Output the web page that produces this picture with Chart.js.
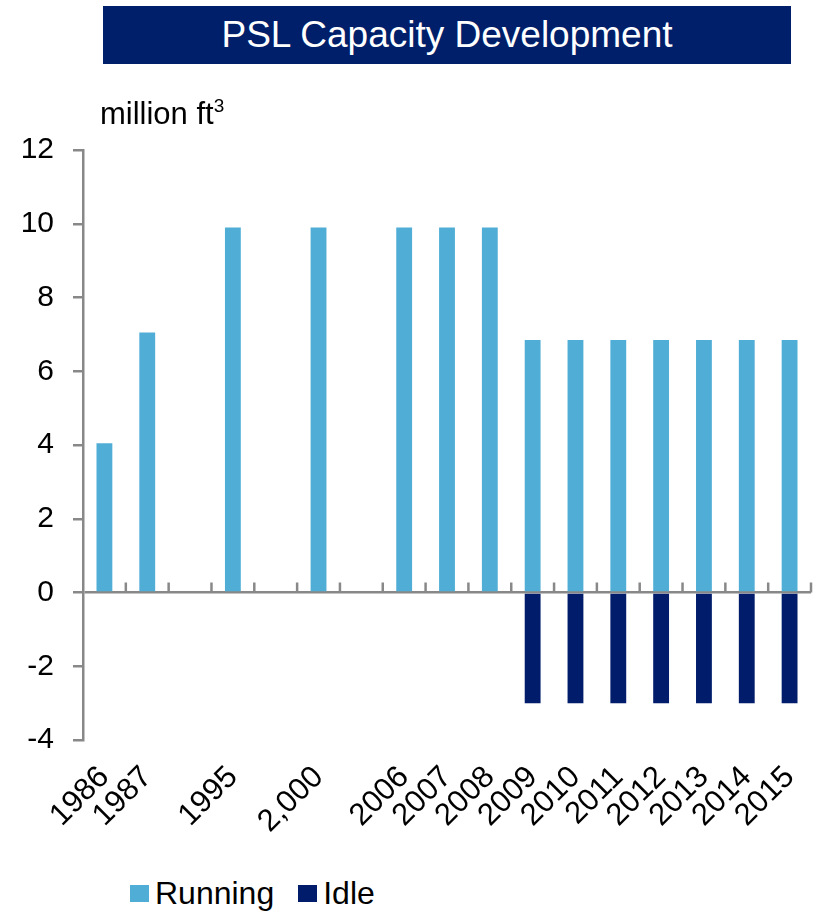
<!DOCTYPE html>
<html>
<head>
<meta charset="utf-8">
<script src="https://cdn.jsdelivr.net/npm/chart.js@4/dist/chart.umd.min.js"></script>
<style>
  body { margin: 0; background: #fff; font-family: "Liberation Sans", Arial, sans-serif; }
  #wrap { position: relative; width: 819px; height: 911px; }
  #title {
    position: absolute; left: 103px; top: 6px; width: 688px; height: 58px;
    background: #001f6b; color: #fff; font-size: 37px; line-height: 58px; text-align: center;
  }
  #unit { position: absolute; left: 100px; top: 96px; font-size: 31px; color: #000; }
  #unit sup { font-size: 19px; vertical-align: 12px; line-height: 0; }
  #chartbox { position: absolute; left: 0; top: 0; width: 819px; height: 840px; }
  #legend { position: absolute; left: 130px; top: 875px; font-size: 32px; color: #000; display: flex; }
  #legend span.item { display: flex; align-items: center; margin-right: 24px; }
  #legend span.sw { display: inline-block; width: 19px; height: 17px; margin-right: 6px; }
</style>
</head>
<body>
<div id="wrap">
  <div id="chartbox"><canvas id="myChart" width="819" height="840"></canvas></div>
  <div id="title">PSL Capacity Development</div>
  <div id="unit">million ft<sup>3</sup></div>
  <div id="legend"></div>
</div>
<script>
// categories, blank ones are the gaps between years
var years = ["1986", "1987", "", "1995", "", "2,000", "", "2006", "2007", "2008",
             "2009", "2010", "2011", "2012", "2013", "2014", "2015"];
var running = [4.05, 7.05, null, 9.9, null, 9.9, null, 9.9, 9.9, 9.9,
               6.85, 6.85, 6.85, 6.85, 6.85, 6.85, 6.85];
var idle = [null, null, null, null, null, null, null, null, null, null,
            -3, -3, -3, -3, -3, -3, -3];
var yTicks = [-4, -2, 0, 2, 4, 6, 8, 10, 12];

var lightBlue = "#50aed6";
var navy = "#001c6b";
var axisGray = "#888888";
var fontName = "'Liberation Sans', Arial, sans-serif";

// little upward ticks on the zero line between categories
const zeroTicks = {
    id: "zeroTicks",
    afterDatasetsDraw(chart) {
        const x = chart.scales.x, y = chart.scales.y;
        const ctx = chart.ctx;
        const y0 = y.getPixelForValue(0);
        ctx.save();
        ctx.strokeStyle = axisGray;
        ctx.lineWidth = 2.5;
        for (let i = 1; i <= years.length; i++) {
            let px;
            if (i < years.length) {
                px = (x.getPixelForValue(i - 1) + x.getPixelForValue(i)) / 2;
            } else {
                px = chart.chartArea.right;
            }
            ctx.beginPath();
            ctx.moveTo(px, y0);
            ctx.lineTo(px, y0 - 10);
            ctx.stroke();
        }
        ctx.restore();
    }
};

const chart = new Chart("myChart", {
    type: "bar",
    data: {
        labels: years,
        datasets: [
            { label: "Running", data: running, backgroundColor: lightBlue },
            { label: "Idle", data: idle, backgroundColor: navy }
        ]
    },
    options: {
        responsive: false,
        animation: false,
        layout: { padding: { top: 150, right: 8, left: 0, bottom: 0 } },
        datasets: {
            bar: { categoryPercentage: 1, barPercentage: 0.37 }
        },
        plugins: {
            legend: { display: false },
            tooltip: { enabled: false }
        },
        scales: {
            x: {
                stacked: true,
                grid: { display: false },
                border: { display: false },
                ticks: {
                    color: "#000",
                    font: { family: fontName, size: 31 },
                    minRotation: 45,
                    maxRotation: 45,
                    autoSkip: false,
                    padding: 11
                },
                afterFit(scale) {
                    scale.height = 100;
                    scale.paddingLeft = 0;
                    scale.paddingRight = 0;
                }
            },
            y: {
                stacked: true,
                min: -4,
                max: 12,
                afterBuildTicks(scale) {
                    scale.ticks = yTicks.map(v => ({ value: v }));
                },
                grid: {
                    color: ctx => (ctx.tick && ctx.tick.value === 0) ? axisGray : "transparent",
                    lineWidth: 2.5,
                    tickColor: axisGray,
                    tickLength: 10
                },
                border: { display: true, color: axisGray, width: 2.5 },
                ticks: {
                    color: "#000",
                    font: { family: fontName, size: 30 },
                    padding: 19
                },
                afterFit(scale) { scale.width = 83; }
            }
        }
    },
    plugins: [zeroTicks]
});

// legend from the datasets
const legend = document.getElementById("legend");
chart.data.datasets.forEach(ds => {
    legend.innerHTML += `<span class="item"><span class="sw" style="background:${ds.backgroundColor}"></span>${ds.label}</span>`;
});
</script>
</body>
</html>
